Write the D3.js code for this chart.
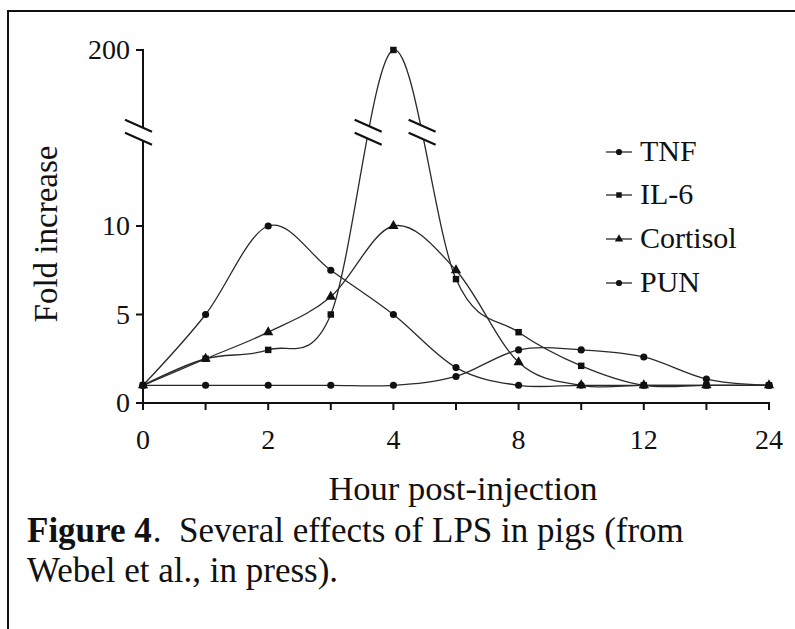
<!DOCTYPE html>
<html>
<head>
<meta charset="utf-8">
<script src="https://cdn.jsdelivr.net/npm/d3@7"></script>
<style>
  html, body { margin: 0; padding: 0; background: #fff; }
  svg { display: block; }
  text { font-family: "Liberation Serif", "Times New Roman", serif; fill: #111; }
</style>
</head>
<body>
<svg id="chart" width="795" height="629"></svg>
<script>
// ---- data ----
const hours = ["0", "1", "2", "3", "4", "6", "8", "10", "12", "18", "24"];
const xTickLabels = ["0", "2", "4", "8", "12", "24"];
const yTickValues = [0, 5, 10, 200];
const seriesNames = ["TNF", "IL-6", "Cortisol", "PUN"];
const tnf      = [1, 5, 10, 7.5, 5, 2, 1, 1, 1, 1, 1];
const il6      = [1, 2.5, 3, 5, 200, 7, 4, 2.1, 1, 1, 1];
const cortisol = [1, 2.5, 4, 6, 10, 7.5, 2.3, 1, 1, 1, 1];
const pun      = [1, 1, 1, 1, 1, 1.5, 3, 3, 2.6, 1.35, 1];
const breakValue = 15.3;

// ---- layout ----
const svg = d3.select("#chart");
const X0 = 143, X1 = 769, Y0 = 403;
const x = d3.scalePoint().domain(hours).range([X0, X1]);
const unit = 17.7;
const y = d3.scaleLinear()
  .domain([0, breakValue, 200])
  .range([Y0, Y0 - breakValue * unit, 50]);
const breakY = y(breakValue);
const ink = "#111", lineInk = "#2a2a2a";

// frame
svg.append("line").attr("x1", 8).attr("y1", 11).attr("x2", 795).attr("y2", 11)
  .attr("stroke", ink).attr("stroke-width", 2);
svg.append("line").attr("x1", 8).attr("y1", 10).attr("x2", 8).attr("y2", 629)
  .attr("stroke", ink).attr("stroke-width", 2);

// ---- series ----
const series = [
  { name: seriesNames[0], values: tnf, symbol: d3.symbolCircle, size: 40 },
  { name: seriesNames[1], values: il6, symbol: d3.symbolSquare, size: 42 },
  { name: seriesNames[2], values: cortisol, symbol: d3.symbolTriangle, size: 46 },
  { name: seriesNames[3], values: pun, symbol: d3.symbolCircle, size: 40 }
];

const lineGen = d3.line()
  .x((d, i) => x(hours[i]))
  .y(d => y(d))
  .curve(d3.curveCardinal.tension(0));

const gLines = svg.append("g");
const paths = series.map(s =>
  gLines.append("path")
    .attr("d", lineGen(s.values))
    .attr("fill", "none")
    .attr("stroke", lineInk)
    .attr("stroke-width", 1.3)
);

series.forEach(s => {
  svg.append("g").selectAll("path")
    .data(s.values)
    .join("path")
    .attr("transform", (d, i) => `translate(${x(hours[i])},${y(d)})`)
    .attr("d", d3.symbol().type(s.symbol).size(s.size))
    .attr("fill", ink);
});

// ---- axes ----
// x axis
const xAxis = svg.append("g");
xAxis.append("line").attr("x1", X0).attr("x2", X1 + 1).attr("y1", Y0).attr("y2", Y0)
  .attr("stroke", ink).attr("stroke-width", 2);
xAxis.selectAll("line.tick").data(hours).join("line").attr("class", "tick")
  .attr("x1", d => x(d)).attr("x2", d => x(d))
  .attr("y1", Y0).attr("y2", Y0 + 7)
  .attr("stroke", ink).attr("stroke-width", 2);
xAxis.selectAll("text").data(xTickLabels).join("text")
  .attr("x", d => x(d)).attr("y", 449)
  .attr("text-anchor", "middle")
  .attr("font-size", 28)
  .text(d => d);

// break mark helper: slanted stroke through (cx, cy)
function breakMark(g, cx, cy) {
  g.append("line")
    .attr("x1", cx - 13.5).attr("y1", cy - 6)
    .attr("x2", cx + 13.5).attr("y2", cy + 6)
    .attr("stroke", ink).attr("stroke-width", 2.2);
}
function breakPair(g, cx, erase) {
  const dy = 6.5;
  if (erase) {
    g.append("polygon")
      .attr("points", [
        [cx - 14, breakY - dy - 6], [cx + 14, breakY - dy + 6],
        [cx + 14, breakY + dy + 6], [cx - 14, breakY + dy - 6]
      ].map(p => p.join(",")).join(" "))
      .attr("fill", "#fff");
  }
  breakMark(g, cx, breakY - dy);
  breakMark(g, cx, breakY + dy);
}

// y axis (broken)
const yAxis = svg.append("g");
const axisCx = X0 - 4.5;
const gapTop = breakY - 6.5 + 6 * ((X0 - axisCx) / 13.5);
const gapBot = breakY + 6.5 + 6 * ((X0 - axisCx) / 13.5);
yAxis.append("line").attr("x1", X0).attr("x2", X0).attr("y1", Y0 + 7).attr("y2", gapBot)
  .attr("stroke", ink).attr("stroke-width", 2);
yAxis.append("line").attr("x1", X0).attr("x2", X0).attr("y1", gapTop).attr("y2", y(200) - 1)
  .attr("stroke", ink).attr("stroke-width", 2);
yAxis.selectAll("line.tick").data(yTickValues).join("line").attr("class", "tick")
  .attr("x1", X0 - 7).attr("x2", X0)
  .attr("y1", d => y(d)).attr("y2", d => y(d))
  .attr("stroke", ink).attr("stroke-width", 2);
yAxis.selectAll("text").data(yTickValues).join("text")
  .attr("x", 130).attr("y", d => y(d) + 9)
  .attr("text-anchor", "end")
  .attr("font-size", 28)
  .text(d => d);
breakPair(yAxis, axisCx, false);

// break marks on the IL-6 peak, placed where the curve crosses the break level
(function () {
  const node = paths[1].node();
  const total = node.getTotalLength();
  const peakX = x(hours[4]);
  let left = null, right = null, prev = node.getPointAtLength(0);
  for (let l = 1; l <= total; l += 0.5) {
    const p = node.getPointAtLength(l);
    if ((prev.y - breakY) * (p.y - breakY) <= 0) {
      const cx = (prev.x + p.x) / 2;
      if (cx < peakX && left === null) left = cx;
      if (cx > peakX) right = cx;
    }
    prev = p;
  }
  const g = svg.append("g");
  if (left !== null) breakPair(g, left, true);
  if (right !== null) breakPair(g, right, true);
})();

// ---- axis titles ----
svg.append("text")
  .attr("transform", "translate(57,234) rotate(-90)")
  .attr("text-anchor", "middle")
  .attr("font-size", 33)
  .text("Fold increase");
svg.append("text")
  .attr("x", 463).attr("y", 500)
  .attr("text-anchor", "middle")
  .attr("font-size", 34.5)
  .text("Hour post-injection");

// ---- legend ----
const legend = svg.append("g");
const legendY = [152, 195, 239, 283];
series.forEach((s, i) => {
  const ly = legendY[i];
  legend.append("line").attr("x1", 606).attr("x2", 632).attr("y1", ly).attr("y2", ly)
    .attr("stroke", lineInk).attr("stroke-width", 1.3);
  legend.append("path")
    .attr("transform", `translate(619,${ly})`)
    .attr("d", d3.symbol().type(s.symbol).size(30))
    .attr("fill", ink);
  legend.append("text")
    .attr("x", 640).attr("y", ly + 9)
    .attr("font-size", 30)
    .text(s.name);
});

// ---- caption ----
const capSize = 35;
const fig = svg.append("text")
  .attr("x", 27).attr("y", 542)
  .attr("font-size", capSize).attr("font-weight", "bold")
  .text("Figure 4");
const figLen = fig.node().getComputedTextLength();
svg.append("text")
  .attr("x", 27 + figLen + 1).attr("y", 542)
  .attr("font-size", capSize)
  .text(".\u00a0\u00a0Several effects of LPS in pigs (from");
svg.append("text")
  .attr("x", 27).attr("y", 582)
  .attr("font-size", capSize)
  .text("Webel et al., in press).");
</script>
</body>
</html>
